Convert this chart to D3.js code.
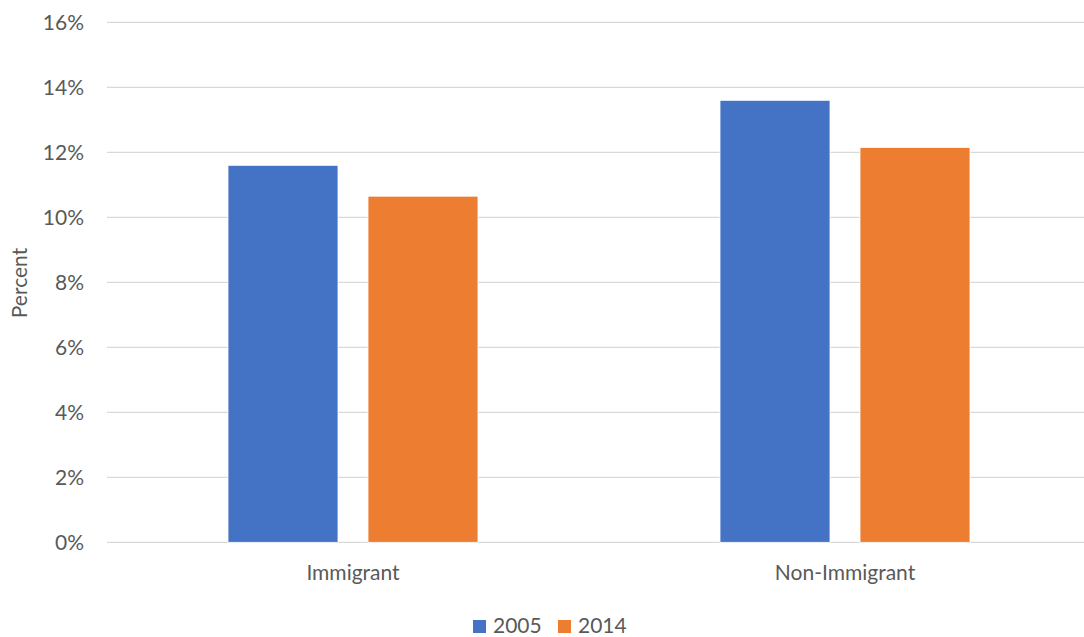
<!DOCTYPE html>
<html>
<head>
<meta charset="utf-8">
<script src="https://cdn.jsdelivr.net/npm/d3@7"></script>
<style>
  html, body { margin: 0; padding: 0; background: #fff; }
  svg { display: block; }
  text { font-family: Lato, "Open Sans", sans-serif; fill: #595959; }
</style>
</head>
<body>
<svg id="chart" width="1084" height="637"></svg>
<script>
const categories = ["Immigrant", "Non-Immigrant"];
const seriesNames = ["2005", "2014"];
const values2005 = [11.6, 13.6];
const values2014 = [10.65, 12.15];
const yTicks = [0, 2, 4, 6, 8, 10, 12, 14, 16];
const colors = ["#4472C4", "#ED7D31"];

const seriesValues = [values2005, values2014];
const svg = d3.select("#chart");
const fs = "21px";

const y = d3.scaleLinear().domain([0, 16]).range([542.3, 22.3]);
const x0 = d3.scaleBand().domain(categories).range([107, 1091]);
const groupW = 250;
const x1 = d3.scaleBand().domain(seriesNames).range([0, groupW]).paddingInner(2 - groupW / 140).paddingOuter(0);
const groupOffset = (x0.bandwidth() - groupW) / 2;

// gridlines
svg.append("g").selectAll("line").data(yTicks).join("line")
  .attr("x1", 107).attr("x2", 1084)
  .attr("y1", d => y(d)).attr("y2", d => y(d))
  .attr("stroke", "#d9d9d9").attr("stroke-width", 1.3);

// y tick labels
svg.append("g").selectAll("text").data(yTicks).join("text")
  .attr("x", 84).attr("y", d => y(d))
  .attr("dy", "0.35em").attr("text-anchor", "end")
  .style("font-size", fs)
  .text(d => d + "%");

// bars
categories.forEach((c, ci) => {
  const g = svg.append("g").attr("transform", `translate(${x0(c) + groupOffset},0)`);
  g.selectAll("rect").data(seriesNames).join("rect")
    .attr("x", s => x1(s))
    .attr("width", x1.bandwidth())
    .attr("y", (s, si) => y(seriesValues[si][ci]))
    .attr("height", (s, si) => y(0) - y(seriesValues[si][ci]))
    .attr("fill", (s, si) => colors[si])
    .attr("stroke", "#fff").attr("stroke-width", 0.8);
});

// category labels
svg.append("g").selectAll("text").data(categories).join("text")
  .attr("x", d => x0(d) + x0.bandwidth() / 2)
  .attr("y", 580)
  .attr("text-anchor", "middle")
  .style("font-size", fs)
  .text(d => d);

// y axis title
svg.append("text")
  .attr("transform", "translate(27,283) rotate(-90)")
  .attr("text-anchor", "middle")
  .style("font-size", fs)
  .text("Percent");

// legend
const legendX = [473, 558];
const lg = svg.append("g");
seriesNames.forEach((s, i) => {
  lg.append("rect").attr("x", legendX[i]).attr("y", 620).attr("width", 13).attr("height", 13).attr("fill", colors[i]);
  lg.append("text").attr("x", legendX[i] + 20).attr("y", 633).style("font-size", fs).text(s);
});
</script>
</body>
</html>
